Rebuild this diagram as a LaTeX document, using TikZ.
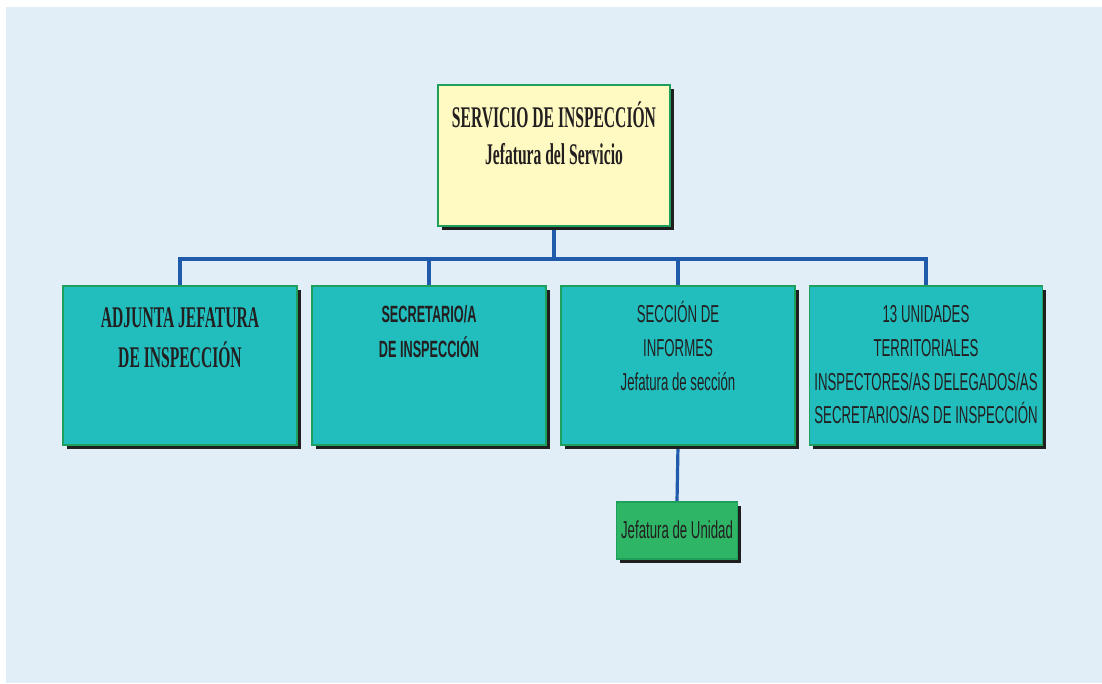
\documentclass[tikz,border=0pt]{standalone}
\usepackage{fontspec}
\usetikzlibrary{shadows}
\newfontfamily\cserif[FakeStretch=0.52]{Liberation Serif}
\newfontfamily\csans[FakeStretch=0.54]{Liberation Sans}
\definecolor{bgblue}{HTML}{E1EEF8}
\definecolor{boxyellow}{HTML}{FFFAC2}
\definecolor{boxteal}{HTML}{22BDBD}
\definecolor{boxgreen}{HTML}{2EB566}
\definecolor{edgegreen}{HTML}{1E9F5C}
\definecolor{connblue}{HTML}{1F5BAA}
\definecolor{txt}{HTML}{231F20}
\pgfdeclarelayer{back}
\pgfdeclarelayer{bg}
\pgfsetlayers{back,bg,main}
\tikzset{
  orgbox/.style={draw=edgegreen, line width=1.5pt, rectangle, inner sep=0pt,
    drop shadow={fill=black!88, opacity=1, shadow xshift=3.5pt, shadow yshift=-4pt}},
  conn/.style={draw=connblue, line width=3.2pt},
  sertxt/.style={anchor=base, inner sep=0pt, text=txt, font=\cserif\bfseries\fontsize{30}{36}\selectfont},
  sanstxt/.style={anchor=base, inner sep=0pt, text=txt, font=\csans\fontsize{24.5}{29}\selectfont},
  sansbold/.style={sanstxt, font=\csans\bfseries\fontsize{23.5}{28}\selectfont},
}
\begin{document}
\begin{tikzpicture}[x=1pt,y=-1pt]
\useasboundingbox (0,0) rectangle (1102,683);
\begin{pgfonlayer}{back}
\fill[bgblue] (6,7) rectangle (1102,683);
\end{pgfonlayer}
% boxes
\node[orgbox, fill=boxyellow, minimum width=232pt, minimum height=141pt] (top) at (554,155.5) {};
\node[orgbox, fill=boxteal, minimum width=234pt, minimum height=159pt] (b1) at (180,365.5) {};
\node[orgbox, fill=boxteal, minimum width=234pt, minimum height=159pt] (b2) at (429,365.5) {};
\node[orgbox, fill=boxteal, minimum width=234pt, minimum height=159pt] (b3) at (678,365.5) {};
\node[orgbox, fill=boxteal, minimum width=233pt, minimum height=159pt] (b4) at (926,365.5) {};
\node[orgbox, fill=boxgreen, minimum width=121pt, minimum height=57pt] (u) at (677,530.5) {};
% connectors
\coordinate (bar) at (554,259);
\begin{pgfonlayer}{bg}
\draw[conn] (top.south) -- (bar);
\draw[conn] (b1.north) |- (bar) -| (b4.north);
\draw[conn] (b2.north) -- (b2.north |- bar);
\draw[conn] (b3.north) -- (b3.north |- bar);
\draw[conn] (b3.south) -- (u.north);
\end{pgfonlayer}
% texts
\node[sertxt] (t1) at (554,127) {SERVICIO DE INSPECCIÓN};
\node[sertxt] (t2) at (554,164) {Jefatura del Servicio};
\node[sertxt] (a1) at (180,327) {ADJUNTA JEFATURA};
\node[sertxt] (a2) at (180,367) {DE INSPECCIÓN};
\node[sansbold] (s1) at (429,322) {SECRETARIO/A};
\node[sansbold] (s2) at (429,357) {DE INSPECCIÓN};
\node[sanstxt] (i1) at (678,322) {SECCIÓN DE};
\node[sanstxt] (i2) at (678,356) {INFORMES};
\node[sanstxt] (i3) at (678,390) {Jefatura de sección};
\node[sanstxt] (r1) at (926,322) {13 UNIDADES};
\node[sanstxt] (r2) at (926,356) {TERRITORIALES};
\node[sanstxt] (r3) at (926,390) {INSPECTORES/AS DELEGADOS/AS};
\node[sanstxt] (r4) at (926,423) {SECRETARIOS/AS DE INSPECCIÓN};
\node[sanstxt] (ut) at (677,538) {Jefatura de Unidad};
\end{tikzpicture}
\end{document}
